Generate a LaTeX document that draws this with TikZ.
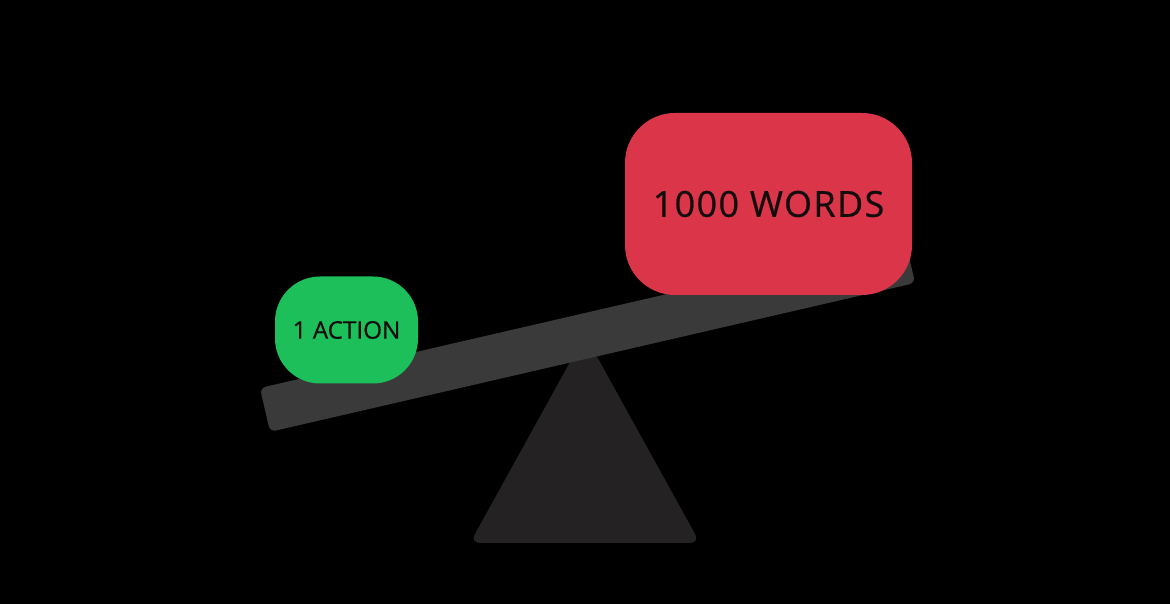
\documentclass[tikz,border=0pt]{standalone}
\usepackage{fontspec}
\setmainfont{Open Sans}
\usepackage{xcolor}
\usepackage{tikz}
\definecolor{plankGray}{HTML}{3A3A3A}
\definecolor{baseGray}{HTML}{252223}
\definecolor{actionGreen}{HTML}{1DBF5A}
\definecolor{wordsRed}{HTML}{DB3549}
\definecolor{inkDark}{HTML}{120C0C}

\begin{document}
\begin{tikzpicture}[
    weight/.style={inner sep=0pt, text=inkDark, align=center}
  ]
    \fill[black] (0,0) rectangle (11.70,6.04);
    \useasboundingbox (0,0) rectangle (11.70,6.04);

    % fulcrum
    \fill[baseGray, rounded corners=0.1cm] (4.70,0.61) -- (7.00,0.61) -- (5.85,2.69) -- cycle;

    % plank
    \node[fill=plankGray, rounded corners=0.06cm, minimum width=6.62cm, minimum height=0.45cm,
          inner sep=0pt, rotate=13] (plank) at (5.875,2.685) {};

    \node[weight, fill=actionGreen, rounded corners=0.45cm, minimum width=1.43cm, minimum height=1.07cm,
          font=\fontsize{6.9}{8}\selectfont\addfontfeatures{FakeBold=0.6}] (action) at (3.465,2.74) {1 ACTION};
    \node[weight, fill=wordsRed, rounded corners=0.5cm, minimum width=2.87cm, minimum height=1.82cm,
          font=\fontsize{10.2}{11}\selectfont\addfontfeatures{LetterSpace=4,FakeBold=0.6}] (words) at (7.685,4.00) {1000 WORDS};
\end{tikzpicture}
\end{document}
